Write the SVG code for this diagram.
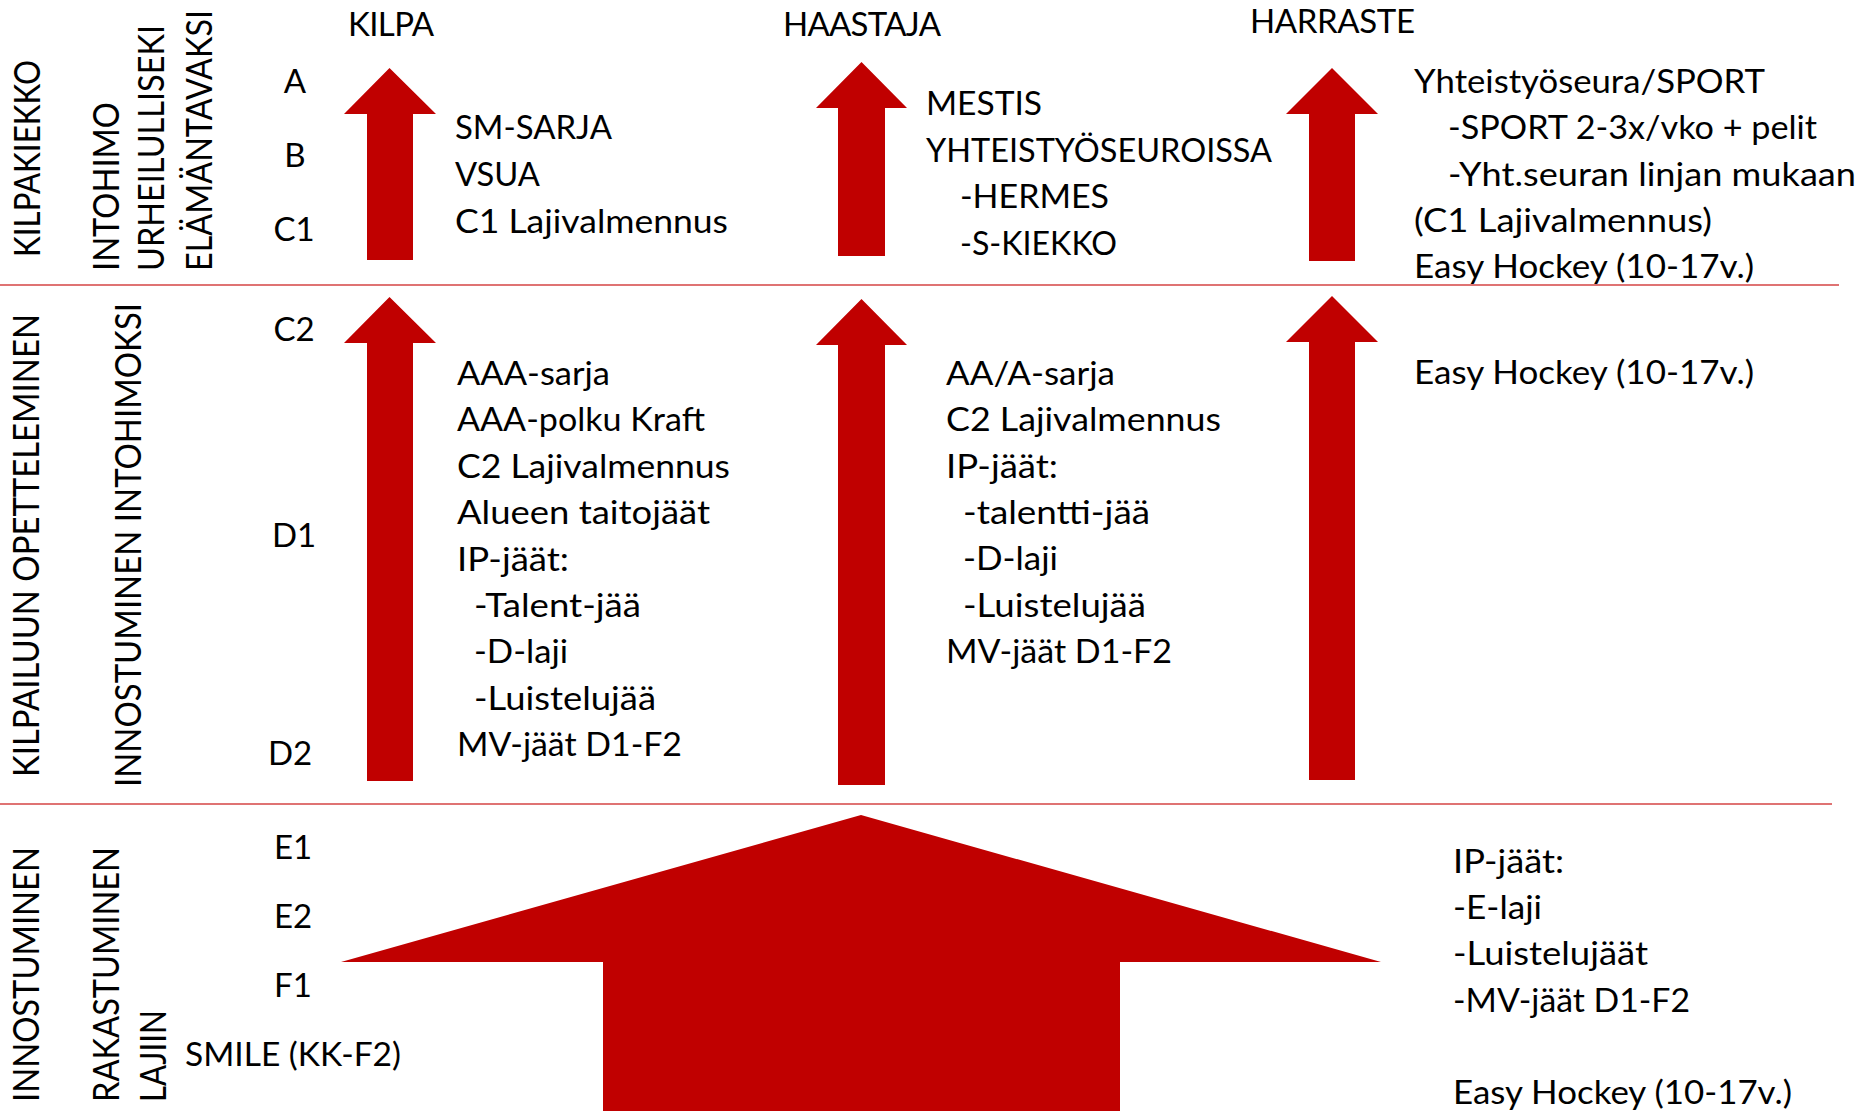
<svg xmlns="http://www.w3.org/2000/svg" width="1862" height="1111" viewBox="0 0 1862 1111">
<style>
text{font-family:Lato,"Liberation Sans",sans-serif;fill:#000}
.t{font-size:33px}
.v{font-size:36px}
.lv{font-size:33px;text-anchor:middle}
.arrow{fill:#C00000}
.div{stroke:#DF7373;stroke-width:2;fill:none}
</style>
<rect width="1862" height="1111" fill="#fff"/>
<g id="dividers">
<line class="div" x1="0" y1="285" x2="1839" y2="285"/>
<line class="div" x1="0" y1="804" x2="1832" y2="804"/>
</g>
<g id="connectors">
<polygon class="arrow" points="389.5,68 436,114 413,114 413,260 367,260 367,114 344,114"/>
<polygon class="arrow" points="861.5,62 907,108 885,108 885,256 838,256 838,108 816,108"/>
<polygon class="arrow" points="1332,68 1378,114 1355,114 1355,261 1309,261 1309,114 1286,114"/>
<polygon class="arrow" points="389.5,297 436,343 413,343 413,781 367,781 367,343 344,343"/>
<polygon class="arrow" points="861.5,299 907,345 885,345 885,785 838,785 838,345 816,345"/>
<polygon class="arrow" points="1332,296 1378,342 1355,342 1355,780 1309,780 1309,342 1286,342"/>
<polygon class="arrow" points="861,815 1381,962 1120,962 1120,1111 603,1111 603,962 341,962"/>
</g>
<g id="headers">
<text class="t" x="348" y="36" textLength="86">KILPA</text>
<text class="t" x="783" y="36" textLength="158">HAASTAJA</text>
<text class="t" x="1250" y="33" textLength="165">HARRASTE</text>
</g>
<g id="row-labels">
<text class="v" transform="translate(40,257) rotate(-90)" textLength="197" lengthAdjust="spacingAndGlyphs">KILPAKIEKKO</text>
<text class="v" transform="translate(119,271) rotate(-90)" textLength="169" lengthAdjust="spacingAndGlyphs">INTOHIMO</text>
<text class="v" transform="translate(164,271) rotate(-90)" textLength="246" lengthAdjust="spacingAndGlyphs">URHEILULLISEKI</text>
<text class="v" transform="translate(212,271) rotate(-90)" textLength="261" lengthAdjust="spacingAndGlyphs">ELÄMÄNTAVAKSI</text>
<text class="v" transform="translate(39,777) rotate(-90)" textLength="463" lengthAdjust="spacingAndGlyphs">KILPAILUUN OPETTELEMINEN</text>
<text class="v" transform="translate(141,787) rotate(-90)" textLength="484" lengthAdjust="spacingAndGlyphs">INNOSTUMINEN INTOHIMOKSI</text>
<text class="v" transform="translate(39,1102) rotate(-90)" textLength="255" lengthAdjust="spacingAndGlyphs">INNOSTUMINEN</text>
<text class="v" transform="translate(119,1102) rotate(-90)" textLength="255" lengthAdjust="spacingAndGlyphs">RAKASTUMINEN</text>
<text class="v" transform="translate(166,1102) rotate(-90)" textLength="92" lengthAdjust="spacingAndGlyphs">LAJIIN</text>
</g>
<g id="levels">
<text class="lv" x="295" y="93">A</text>
<text class="lv" x="295" y="167">B</text>
<text class="lv" x="294" y="241">C1</text>
<text class="lv" x="294" y="341">C2</text>
<text class="lv" x="294" y="547">D1</text>
<text class="lv" x="290" y="765">D2</text>
<text class="lv" x="293" y="859">E1</text>
<text class="lv" x="293" y="928">E2</text>
<text class="lv" x="293" y="997">F1</text>
<text class="t" x="185" y="1066" textLength="216" lengthAdjust="spacingAndGlyphs">SMILE (KK-F2)</text>
</g>
<g id="kilpa-top">
<text class="t" x="455" y="139" textLength="157" lengthAdjust="spacingAndGlyphs">SM-SARJA</text>
<text class="t" x="455" y="186" textLength="85" lengthAdjust="spacingAndGlyphs">VSUA</text>
<text class="t" x="455" y="233" textLength="273" lengthAdjust="spacingAndGlyphs">C1 Lajivalmennus</text>
</g>
<g id="kilpa-mid">
<text class="t" x="457" y="385" textLength="153" lengthAdjust="spacingAndGlyphs">AAA-sarja</text>
<text class="t" x="457" y="431" textLength="248" lengthAdjust="spacingAndGlyphs">AAA-polku Kraft</text>
<text class="t" x="457" y="478" textLength="273" lengthAdjust="spacingAndGlyphs">C2 Lajivalmennus</text>
<text class="t" x="457" y="524" textLength="253" lengthAdjust="spacingAndGlyphs">Alueen taitojäät</text>
<text class="t" x="457" y="571" textLength="112" lengthAdjust="spacingAndGlyphs">IP-jäät:</text>
<text class="t" x="474" y="617" textLength="167" lengthAdjust="spacingAndGlyphs">-Talent-jää</text>
<text class="t" x="474" y="663" textLength="94" lengthAdjust="spacingAndGlyphs">-D-laji</text>
<text class="t" x="474" y="710" textLength="182" lengthAdjust="spacingAndGlyphs">-Luistelujää</text>
<text class="t" x="457" y="756" textLength="225" lengthAdjust="spacingAndGlyphs">MV-jäät D1-F2</text>
</g>
<g id="haastaja-top">
<text class="t" x="926" y="115" textLength="116" lengthAdjust="spacingAndGlyphs">MESTIS</text>
<text class="t" x="926" y="162" textLength="346" lengthAdjust="spacingAndGlyphs">YHTEISTYÖSEUROISSA</text>
<text class="t" x="960" y="208" textLength="149" lengthAdjust="spacingAndGlyphs">-HERMES</text>
<text class="t" x="960" y="255" textLength="157" lengthAdjust="spacingAndGlyphs">-S-KIEKKO</text>
</g>
<g id="haastaja-mid">
<text class="t" x="946" y="385" textLength="169" lengthAdjust="spacingAndGlyphs">AA/A-sarja</text>
<text class="t" x="946" y="431" textLength="275" lengthAdjust="spacingAndGlyphs">C2 Lajivalmennus</text>
<text class="t" x="946" y="478" textLength="112" lengthAdjust="spacingAndGlyphs">IP-jäät:</text>
<text class="t" x="963" y="524" textLength="187" lengthAdjust="spacingAndGlyphs">-talentti-jää</text>
<text class="t" x="963" y="570" textLength="95" lengthAdjust="spacingAndGlyphs">-D-laji</text>
<text class="t" x="963" y="617" textLength="183" lengthAdjust="spacingAndGlyphs">-Luistelujää</text>
<text class="t" x="946" y="663" textLength="226" lengthAdjust="spacingAndGlyphs">MV-jäät D1-F2</text>
</g>
<g id="harraste-top">
<text class="t" x="1414" y="93" textLength="351" lengthAdjust="spacingAndGlyphs">Yhteistyöseura/SPORT</text>
<text class="t" x="1448" y="139" textLength="369" lengthAdjust="spacingAndGlyphs">-SPORT 2-3x/vko + pelit</text>
<text class="t" x="1448" y="186" textLength="408" lengthAdjust="spacingAndGlyphs">-Yht.seuran linjan mukaan</text>
<text class="t" x="1414" y="232" textLength="298" lengthAdjust="spacingAndGlyphs">(C1 Lajivalmennus)</text>
<text class="t" x="1414" y="278" textLength="340" lengthAdjust="spacingAndGlyphs">Easy Hockey (10-17v.)</text>
</g>
<g id="harraste-mid">
<text class="t" x="1414" y="384" textLength="340" lengthAdjust="spacingAndGlyphs">Easy Hockey (10-17v.)</text>
</g>
<g id="bottom-right">
<text class="t" x="1453" y="873" textLength="111" lengthAdjust="spacingAndGlyphs">IP-jäät:</text>
<text class="t" x="1453" y="919" textLength="89" lengthAdjust="spacingAndGlyphs">-E-laji</text>
<text class="t" x="1453" y="965" textLength="195" lengthAdjust="spacingAndGlyphs">-Luistelujäät</text>
<text class="t" x="1453" y="1012" textLength="237" lengthAdjust="spacingAndGlyphs">-MV-jäät D1-F2</text>
<text class="t" x="1453" y="1104" textLength="339" lengthAdjust="spacingAndGlyphs">Easy Hockey (10-17v.)</text>
</g>
</svg>
